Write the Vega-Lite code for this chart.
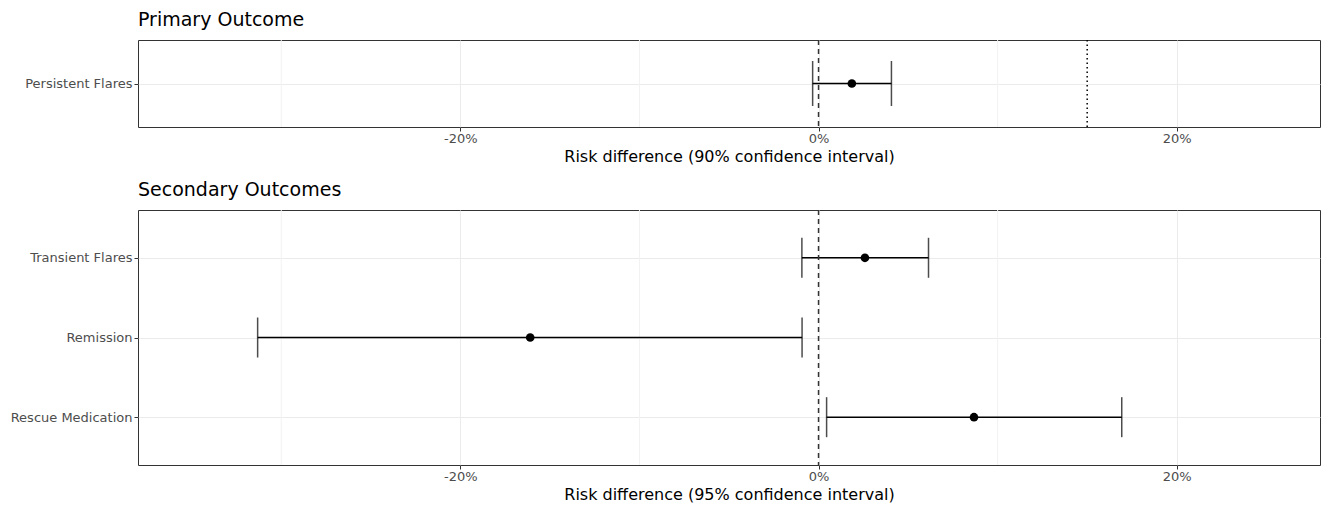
{
  "$schema": "https://vega.github.io/schema/vega-lite/v6.json",
  "background": "white",
  "padding": {"left": 5, "top": 10, "right": 6, "bottom": 0},
  "spacing": 15,
  "config": {
    "font": "DejaVu Sans",
    "view": {"stroke": "#333333", "strokeWidth": 1},
    "axis": {
      "labelFont": "DejaVu Sans", "labelFontSize": 13, "labelColor": "#4d4d4d",
      "tickColor": "#333333", "tickSize": 4, "domain": false,
      "titleFont": "DejaVu Sans", "titleFontSize": 16, "titleFontWeight": "normal", "titleColor": "black",
      "gridColor": "#ebebeb", "gridWidth": 1
    },
    "title": {"font": "DejaVu Sans", "fontSize": 19, "fontWeight": "normal", "color": "black", "anchor": "start", "frame": "group", "offset": 9}
  },
  "datasets": {
    "primary": [
      {"outcome": "Persistent Flares", "est": 1.86, "lo": -0.33, "hi": 4.07}
    ],
    "secondary": [
      {"outcome": "Transient Flares", "est": 2.59, "lo": -0.93, "hi": 6.14},
      {"outcome": "Remission", "est": -16.10, "lo": -31.32, "hi": -0.92},
      {"outcome": "Rescue Medication", "est": 8.68, "lo": 0.45, "hi": 16.93}
    ],
    "minor": [{"v": -30}, {"v": -10}, {"v": 10}],
    "nullref": [{"v": 0}],
    "margin": [{"v": 15}]
  },
  "vconcat": [
    {
      "title": {"text": "Primary Outcome"},
      "width": 1182,
      "height": 87,
      "layer": [
        {
          "data": {"name": "minor"},
          "mark": {"type": "rule", "color": "#f2f2f2", "strokeWidth": 1},
          "encoding": {
            "x": {"field": "v", "type": "quantitative", "title": "Risk difference (90% confidence interval)",
              "scale": {"domain": [-38, 28], "nice": false, "zero": false},
              "axis": {"values": [-20, 0, 20], "labelExpr": "datum.value + '%'", "grid": true, "labelPadding": 1, "titlePadding": 3}}
          }
        },
        {
          "data": {"name": "primary"},
          "mark": {"type": "rule", "color": "black", "strokeWidth": 1.5},
          "encoding": {
            "y": {"field": "outcome", "type": "nominal", "sort": null, "scale": {"type": "point", "padding": 0.6},
              "axis": {"title": null, "grid": true, "minExtent": 132, "maxExtent": 132, "labelPadding": 2}},
            "x": {"field": "lo", "type": "quantitative", "title": "Risk difference (90% confidence interval)"},
            "x2": {"field": "hi"}
          }
        },
        {
          "data": {"name": "nullref"},
          "mark": {"type": "rule", "color": "#333333", "strokeWidth": 1.5, "strokeDash": [5, 4]},
          "encoding": {"x": {"field": "v", "type": "quantitative", "title": "Risk difference (90% confidence interval)"}}
        },
        {
          "data": {"name": "margin"},
          "mark": {"type": "rule", "color": "black", "strokeWidth": 1.5, "strokeDash": [1.5, 3]},
          "encoding": {"x": {"field": "v", "type": "quantitative", "title": "Risk difference (90% confidence interval)"}}
        },
        {
          "data": {"name": "primary"},
          "mark": {"type": "tick", "color": "black", "thickness": 1.5, "size": 45, "orient": "vertical"},
          "encoding": {
            "y": {"field": "outcome", "type": "nominal", "sort": null},
            "x": {"field": "lo", "type": "quantitative", "title": "Risk difference (90% confidence interval)"}
          }
        },
        {
          "data": {"name": "primary"},
          "mark": {"type": "tick", "color": "black", "thickness": 1.5, "size": 45, "orient": "vertical"},
          "encoding": {
            "y": {"field": "outcome", "type": "nominal", "sort": null},
            "x": {"field": "hi", "type": "quantitative", "title": "Risk difference (90% confidence interval)"}
          }
        },
        {
          "data": {"name": "primary"},
          "mark": {"type": "point", "filled": true, "color": "black", "opacity": 1, "size": 75},
          "encoding": {
            "y": {"field": "outcome", "type": "nominal", "sort": null},
            "x": {"field": "est", "type": "quantitative", "title": "Risk difference (90% confidence interval)"}
          }
        }
      ]
    },
    {
      "title": {"text": "Secondary Outcomes"},
      "width": 1182,
      "height": 255,
      "layer": [
        {
          "data": {"name": "minor"},
          "mark": {"type": "rule", "color": "#f2f2f2", "strokeWidth": 1},
          "encoding": {
            "x": {"field": "v", "type": "quantitative", "title": "Risk difference (95% confidence interval)",
              "scale": {"domain": [-38, 28], "nice": false, "zero": false},
              "axis": {"values": [-20, 0, 20], "labelExpr": "datum.value + '%'", "grid": true, "labelPadding": 1, "titlePadding": 3}}
          }
        },
        {
          "data": {"name": "secondary"},
          "mark": {"type": "rule", "color": "black", "strokeWidth": 1.5},
          "encoding": {
            "y": {"field": "outcome", "type": "nominal", "sort": null, "scale": {"type": "point", "padding": 0.6},
              "axis": {"title": null, "grid": true, "minExtent": 132, "maxExtent": 132, "labelPadding": 2}},
            "x": {"field": "lo", "type": "quantitative", "title": "Risk difference (95% confidence interval)"},
            "x2": {"field": "hi"}
          }
        },
        {
          "data": {"name": "nullref"},
          "mark": {"type": "rule", "color": "#333333", "strokeWidth": 1.5, "strokeDash": [5, 4]},
          "encoding": {"x": {"field": "v", "type": "quantitative", "title": "Risk difference (95% confidence interval)"}}
        },
        {
          "data": {"name": "secondary"},
          "mark": {"type": "tick", "color": "black", "thickness": 1.5, "size": 40, "orient": "vertical"},
          "encoding": {
            "y": {"field": "outcome", "type": "nominal", "sort": null},
            "x": {"field": "lo", "type": "quantitative", "title": "Risk difference (95% confidence interval)"}
          }
        },
        {
          "data": {"name": "secondary"},
          "mark": {"type": "tick", "color": "black", "thickness": 1.5, "size": 40, "orient": "vertical"},
          "encoding": {
            "y": {"field": "outcome", "type": "nominal", "sort": null},
            "x": {"field": "hi", "type": "quantitative", "title": "Risk difference (95% confidence interval)"}
          }
        },
        {
          "data": {"name": "secondary"},
          "mark": {"type": "point", "filled": true, "color": "black", "opacity": 1, "size": 75},
          "encoding": {
            "y": {"field": "outcome", "type": "nominal", "sort": null},
            "x": {"field": "est", "type": "quantitative", "title": "Risk difference (95% confidence interval)"}
          }
        }
      ]
    }
  ]
}
